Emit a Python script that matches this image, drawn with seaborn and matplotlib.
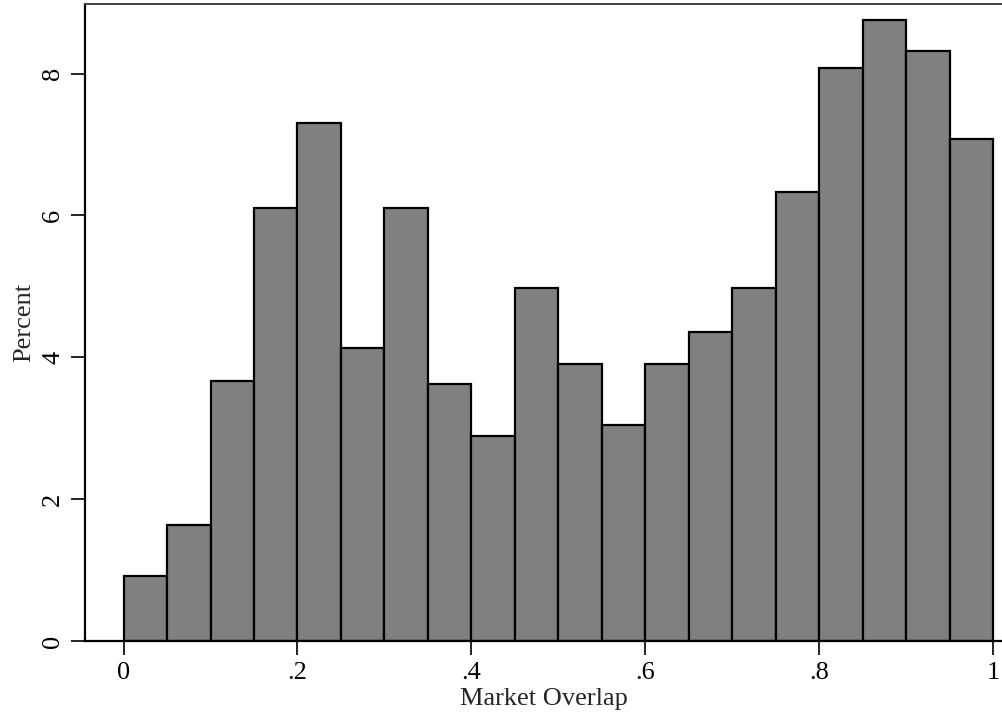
import matplotlib
matplotlib.use("Agg")
import matplotlib.pyplot as plt
import numpy as np
import seaborn as sns

# histogram of market overlap, 20 bins of width .05, heights in percent
bin_edges = [0.0, 0.05, 0.1, 0.15, 0.2, 0.25, 0.3, 0.35, 0.4, 0.45, 0.5,
             0.55, 0.6, 0.65, 0.7, 0.75, 0.8, 0.85, 0.9, 0.95, 1.0]
percent = [0.91, 1.64, 3.67, 6.11, 7.30, 4.13, 6.11, 3.62, 2.89, 4.98,
           3.90, 3.05, 3.90, 4.36, 4.98, 6.33, 8.08, 8.76, 8.32, 7.07]
x_ticks = [0, 0.2, 0.4, 0.6, 0.8, 1.0]
x_tick_labels = ["0", ".2", ".4", ".6", ".8", "1"]
y_ticks = [0, 2, 4, 6, 8]

sns.set_style("white")
plt.rcParams["font.family"] = ["Liberation Serif", "DejaVu Serif"]

fig = plt.figure(figsize=(10.02, 7.19), dpi=100)
ax = fig.add_axes([85 / 1002, 1 - 641 / 719, 1 - 85 / 1002, 637 / 719])

bin_mid = [(a + b) / 2 for a, b in zip(bin_edges[:-1], bin_edges[1:])]
sns.histplot(x=bin_mid, weights=percent, bins=bin_edges, ax=ax,
             color="#808080", edgecolor="black", linewidth=1.6, alpha=1)

ax.set_xlim(-0.0443, 1.01)
ax.set_ylim(0, 8.98)
ax.set_xticks(x_ticks)
ax.set_xticklabels(x_tick_labels)
ax.set_yticks(y_ticks)
ax.set_yticklabels([str(v) for v in y_ticks], rotation=90, va="center")
ax.tick_params(axis="both", length=10, width=1.2, labelsize=19,
               direction="out", colors="black", left=True, bottom=True)
ax.tick_params(axis="y", pad=5)
ax.tick_params(axis="x", pad=5)
ax.set_xlabel("Market Overlap", fontsize=19, labelpad=3)
ax.set_ylabel("Percent", fontsize=19, labelpad=5)

for side in ["left", "bottom"]:
    ax.spines[side].set_color("black")
    ax.spines[side].set_linewidth(1.6)
ax.spines["top"].set_color("#404040")
ax.spines["top"].set_linewidth(1.4)
ax.spines["right"].set_visible(False)

fig.savefig("out.png", dpi=100)
